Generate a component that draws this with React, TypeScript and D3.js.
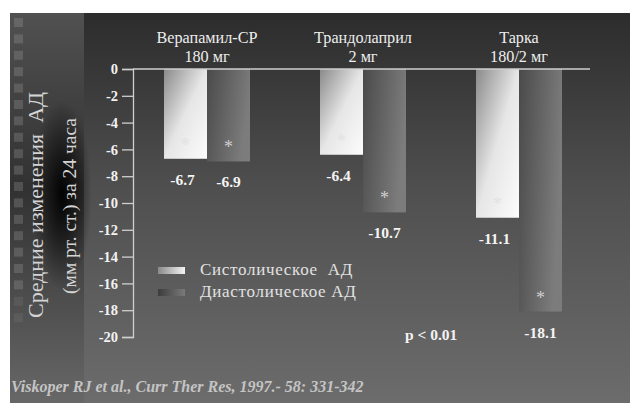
import React, { useEffect, useRef } from "react";
import * as d3 from "d3";

// Drug groups (two header lines each)
const groupNames = ["Верапамил-СР", "Трандолаприл", "Тарка"];
const groupDoses = ["180 мг", "2 мг", "180/2 мг"];
// Mean 24-h BP change, mm Hg
const systolic = [-6.7, -6.4, -11.1];
const diastolic = [-6.9, -10.7, -18.1];
const yTicks = [0, -2, -4, -6, -8, -10, -12, -14, -16, -18, -20];
const seriesKeys = ["sys", "dia"];
const legendLabels = ["Систолическое  АД", "Диастолическое АД"];
const yTitle = ["Средние изменения  АД", "(мм рт. ст.) за 24 часа"];
const pNote = "p < 0.01";
const citation = "Viskoper RJ et al., Curr Ther Res, 1997.- 58: 331-342";

const W = 630;
const H = 403;
const serif = "Liberation Serif, DejaVu Serif, serif";

export default function App() {
  const axisRef = useRef<SVGGElement>(null);

  const y = d3.scaleLinear().domain([0, -20]).range([69, 337]);
  const xGroup = d3.scalePoint<string>().domain(groupNames).range([129, 597]).padding(0.5);
  const xSeries = d3.scaleBand<string>().domain(seriesKeys).range([-43, 43]).padding(0);

  useEffect(() => {
    if (!axisRef.current) return;
    const g = d3.select(axisRef.current);
    g.selectAll("*").remove();
    g.call(
      d3
        .axisLeft(y)
        .tickValues(yTicks)
        .tickSize(11)
        .tickPadding(4)
        .tickFormat((d) => String(d))
    );
    g.attr("font-family", null).attr("font-size", null);
    g.select(".domain").attr("stroke", "#cfcfcf").attr("stroke-width", 1.3);
    g.selectAll(".tick line").attr("stroke", "#cfcfcf").attr("stroke-width", 1.3);
    g.selectAll(".tick text")
      .attr("fill", "#f2f2f2")
      .style("font-family", serif)
      .attr("font-weight", "bold")
      .attr("font-size", 14.5);
  }, []);

  const squares = d3.range(19).map((i) => 18 + i * 16.4);

  const bars = groupNames.flatMap((name, i) => [
    { key: "sys", name, value: systolic[i] },
    { key: "dia", name, value: diastolic[i] },
  ]);

  return (
    <svg
      width={W}
      height={H}
      style={{ position: "absolute", left: 0, top: 0, background: "#fff", fontFamily: serif }}
    >
      <defs>
        <linearGradient id="bg" x1="0" y1="0" x2="0" y2="1">
          <stop offset="0" stopColor="#2c2c2c" />
          <stop offset="0.45" stopColor="#4f4f4f" />
          <stop offset="1" stopColor="#6c6c6c" />
        </linearGradient>
        <linearGradient id="strip" x1="0" y1="0" x2="0" y2="1">
          <stop offset="0" stopColor="#5a5a5a" />
          <stop offset="0.45" stopColor="#2a2a2a" />
          <stop offset="1" stopColor="#666" />
        </linearGradient>
        <radialGradient id="shadow" cx="0.5" cy="0.5" r="0.5">
          <stop offset="0" stopColor="#000" stopOpacity="0.95" />
          <stop offset="1" stopColor="#000" stopOpacity="0" />
        </radialGradient>
        <linearGradient id="sysFill" x1="0" y1="0" x2="1" y2="1">
          <stop offset="0" stopColor="#8a8a8a" />
          <stop offset="0.5" stopColor="#e6e6e6" />
          <stop offset="1" stopColor="#fcfcfc" />
        </linearGradient>
        <linearGradient id="diaFill" x1="0" y1="0" x2="1" y2="0.3">
          <stop offset="0" stopColor="#4a4a4a" />
          <stop offset="0.6" stopColor="#686868" />
          <stop offset="1" stopColor="#7c7c7c" />
        </linearGradient>
        <linearGradient id="sysSwatch" x1="0" y1="0" x2="1" y2="0">
          <stop offset="0" stopColor="#8a8a8a" />
          <stop offset="1" stopColor="#f4f4f4" />
        </linearGradient>
        <linearGradient id="diaSwatch" x1="0" y1="0" x2="1" y2="0">
          <stop offset="0" stopColor="#3c3c3c" />
          <stop offset="1" stopColor="#7a7a7a" />
        </linearGradient>
      </defs>

      {/* panel background */}
      <rect x={10} y={13} width={W - 10} height={H - 13} fill="url(#bg)" />
      <rect x={10} y={13} width={74} height={H - 13} fill="url(#strip)" opacity={0.8} />
      <ellipse cx={62} cy={195} rx={30} ry={95} fill="url(#shadow)" />
      {squares.map((sy, i) => (
        <rect
          key={i}
          x={14}
          y={sy}
          width={9}
          height={9}
          fill="#9a9a9a"
          opacity={i > 16 ? 0.15 : 0.3}
        />
      ))}

      {/* y-axis title */}
      <g fill="#d4d4d4" fontFamily={serif} textAnchor="middle">
        <text
          transform="translate(43,205) rotate(-90)"
          fontSize={22}
          style={{ whiteSpace: "pre" }}
        >
          {yTitle[0]}
        </text>
        <text transform="translate(76,206) rotate(-90)" fontSize={19.5}>
          {yTitle[1]}
        </text>
      </g>

      {/* bars */}
      {bars.map((b, i) => {
        const x = (xGroup(b.name) as number) + (xSeries(b.key) as number);
        const w = xSeries.bandwidth();
        const yb = y(b.value);
        return (
          <g key={i}>
            <rect
              x={x}
              y={y(0)}
              width={w}
              height={yb - y(0)}
              fill={b.key === "sys" ? "url(#sysFill)" : "url(#diaFill)"}
            />
            <text
              x={x + w / 2}
              y={yb - 8}
              textAnchor="middle"
              fontFamily={serif}
              fontSize={18}
              fill={b.key === "sys" ? "#d8d8d8" : "#cfcfcf"}
              opacity={b.key === "sys" ? 0.5 : 1}
            >
              *
            </text>
            <text
              x={x + w / 2 - (b.key === "sys" ? 3 : 0)}
              y={yb + 26}
              textAnchor="middle"
              fontFamily={serif}
              fontWeight="bold"
              fontSize={15.5}
              fill="#f4f4f4"
            >
              {String(b.value)}
            </text>
          </g>
        );
      })}

      {/* zero line and y axis */}
      <line x1={133} x2={590} y1={y(0)} y2={y(0)} stroke="#cfcfcf" strokeWidth={1.5} />
      <g ref={axisRef} transform="translate(133,0)" />

      {/* group headers */}
      {groupNames.map((name, i) => (
        <g key={name} fill="#ededed" fontFamily={serif} fontSize={16.2} textAnchor="middle">
          <text x={xGroup(name)} y={43}>
            {name}
          </text>
          <text x={xGroup(name)} y={62}>
            {groupDoses[i]}
          </text>
        </g>
      ))}

      {/* legend */}
      {legendLabels.map((lab, i) => (
        <g key={lab} transform={`translate(158,${267 + i * 22})`}>
          <rect width={27} height={7} fill={i === 0 ? "url(#sysSwatch)" : "url(#diaSwatch)"} />
          <text
            x={42}
            y={8}
            fill="#e2e2e2"
            fontFamily={serif}
            fontSize={17}
            letterSpacing={0.7}
            style={{ whiteSpace: "pre" }}
          >
            {lab}
          </text>
        </g>
      ))}

      <text x={405} y={340} fill="#f2f2f2" fontFamily={serif} fontWeight="bold" fontSize={15.5}>
        {pNote}
      </text>

      <text
        x={11}
        y={392}
        fill="#c4c4c4"
        fontFamily={serif}
        fontWeight="bold"
        fontStyle="italic"
        fontSize={16}
      >
        {citation}
      </text>
    </svg>
  );
}
